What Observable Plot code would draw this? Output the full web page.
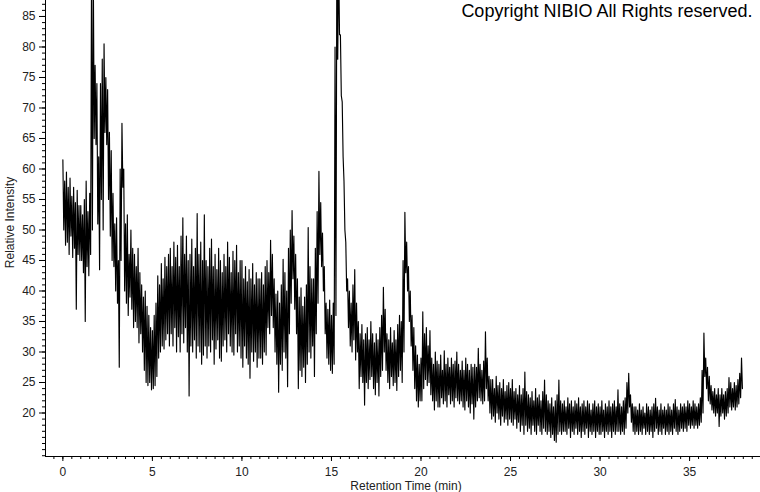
<!DOCTYPE html>
<html><head><meta charset="utf-8">
<script src="https://cdn.jsdelivr.net/npm/d3@7"></script>
<script src="https://cdn.jsdelivr.net/npm/@observablehq/plot@0.6"></script>
<style>
html,body{margin:0;padding:0;background:#fff;}
#chart{position:relative;width:760px;height:492px;}
</style></head><body><div id="chart"></div>
<script>
// sampling grid of the trace (minutes)
const startTime = 0;
const stepTime = 0.1;
// upper edge of the trace in each 0.1-min slot (relative intensity)
const upper = [
61.5,58,59.5,57,58.5,55.5,57,54.5,56.5,54,
54,52.5,55,58,53,56,92,92,77,74,
62,74,78,80.5,75,73,66,63,56,51,
52,45,60,67.5,60,51,52.5,46,50,47,
46,44,47,43,41,39,40,37.5,36,34,
33.5,36,38,42.5,41,44.5,42,45.5,44,46,
47,44,48,45.5,47.5,44,49,52,46,49,
45,46,48.5,44,47,52.7,46,48,45,52.5,
45,44,47,48.5,44,46,43.5,47,45,43,
46,44,48,45.5,43,46.5,45,47.5,43,45,
45,42,44,41.5,43.5,42,44.5,41,43,42,
42,43,41,44,45,43,48.3,46,42,39.5,
40,38,41,45.2,43,40,47,50,53.2,49,
46,42,39,40.5,37.5,39,41,50.4,44,42,
42,47,53,59.6,54.5,49.5,44,38,37,38.5,
36,38,80,95,95,82,71,58,48,42,
40,38,41,43.5,38,35,33,34.5,32,33,
34,32,35,33,31.5,33,32,34,36,40.6,
37,33,32,34,31.5,33.5,32,34.5,36,35,
45,52.9,48,44,40,36,34,31,29.5,28,
29,36.6,33,34,31,33.5,29,28,30,28.5,
28,29.5,27,30.2,28,29,27.5,29,28,28.5,
30,28,27,28.5,27,29,28,27,28,27.5,
28,27.5,30.6,28,27,28.5,33.3,29,26,25.5,
25.5,24,26,24.5,25,24,25.5,23.5,24.5,25,
24,25.5,23.5,24,23,24.5,23,24,26.7,23.5,
23,22.5,23.5,22,24,22.5,23,22,23.5,25.4,
23,22,21.5,22.5,21,22,23,25.4,22,21.5,
22,21,22.5,21.5,22,21,22,21.5,22.5,21,
21.5,22,21,22,21.5,20.5,21.5,22,21,21.5,
21,22,20.5,21.5,21,22,21,21.5,22,21,
23.8,21.5,21,22,22.5,25,26.5,23,21.5,21,
21,20.5,21.5,20.5,21,20,21.5,21,20.5,21,
21.5,22.4,21,20.5,21.5,20.5,21,20.5,21.5,21,
20.5,21.5,22.2,21,20.5,21.5,21,21.5,21,22,
21.5,21,22,21.5,21,21.5,22.5,27,33.1,29,
27.5,26,24.5,23.5,24,23,24,23,24,23,
23.5,24,25.8,25,24,25,24.5,25.5,26.5,29
];
// lower edge of the trace in each 0.1-min slot (relative intensity)
const lower = [
50,47.5,48,46,49,45.5,47,37,46,45,
45,43,35,44,42.5,46,50,65,64,51,
43.5,55,50,66,64,55,49,45,44,40,
38,27.5,45,57,40,38,36,39,37,34,
35,34,31.5,33,30,27,25,24.5,25,23.8,
24,24.5,26,29,30,31,30.5,32,33,31,
33,31,34,30,32.5,30,33,31.5,34,30,
22.8,31,30,32,29,31,30,28,29.5,31,
29,31,30,32,28,30.5,32,29,28.5,31,
32,30,33,31,30,29.5,33,30,31,29,
27.5,31,29,28,25.7,30,28.5,30,27.5,29,
29,28,30,29.5,34,33,36,34,30,28,
23.4,28,27,30,29,24.3,33,38,42,37,
33,24,27,26,27.5,25,28,30,29,31,
26,33,38,46,44,40,33,29,28,27,
26.5,28,36,78,82,72,62,50,40,34,
31,30,32,28.7,30,24,26,25,21.3,25,
24,25.5,26,24,23,25,22.8,26,27,30,
27,25,24,26,24.5,25,23.7,26,27,25,
30,43,40,35,31,27,24,22,21,22,
22,24,25.5,24.5,25,23,22,20.5,22,21,
21,22.5,21.5,22,21,23,21.5,22,21,22.5,
22,21.5,22,21,20.5,22,21,20,21.5,19,
21,22,22.5,22,21.5,22,24,22,20,19,
19.5,18.5,20,19,18,19.5,18.5,19,18,19,
18.5,18,19,17.5,18.5,17,18,16.5,18,17,
17.5,16.5,18,17,16.5,18,17,16.5,17.5,17,
16.5,17,16,16.5,15.5,15.2,16.5,17,16.5,17,
17,16.5,17.5,16,17,16.5,17.5,16.5,17,16,
17,16.5,17.5,16,17,16.5,17,16,17,16.5,
16.5,17,16,17,16.5,17,16,17,16.5,17,
17,16.5,17,16.5,17.5,20,21,18.5,17,16.5,
17,16.5,17,16.5,17.5,16.5,17,16.5,17,16,
17,17.5,16.5,17,16.5,17.5,16.5,17,16.5,17,
16.5,17.5,17,16.5,17,17.5,17,17.5,17,18,
17.5,18,17.5,18,17.5,18,18.5,20,26,24,
22,21.5,20.5,20,19.5,20,17.8,19.5,20,19,
19.5,20,21,20.5,21,20.5,21,21.5,22.5,24
];
const xTicks = [0, 5, 10, 15, 20, 25, 30, 35];
const yTicks = [20, 25, 30, 35, 40, 45, 50, 55, 60, 65, 70, 75, 80, 85];
const xMinorStep = 0.5;
const yMinorStep = 1;
const xDomain = [-0.97, 38.96];
const yDomain = [12.87, 87.62];
const xLabel = "Retention Time (min)";
const yLabel = "Relative Intensity";
const copyright = "Copyright NIBIO All Rights reserved.";

// trace: top edge then bottom edge within every slot
const points = [];
upper.forEach((u, i) => {
  const t = startTime + i * stepTime;
  points.push({t, v: u});
  points.push({t: t + stepTime / 2, v: lower[i]});
});
const xMinor = d3.range(Math.ceil(xDomain[0] / xMinorStep) * xMinorStep, xDomain[1], xMinorStep);
const yMinor = d3.range(Math.ceil(yDomain[0]), yDomain[1], yMinorStep);

const font = "Arial, 'Liberation Sans', sans-serif";
const chart = Plot.plot({
  width: 760, height: 492,
  marginLeft: 45, marginRight: 0, marginTop: 0, marginBottom: 36,
  style: {fontFamily: font, fontSize: "12px", color: "#222", background: "#fff"},
  x: {domain: xDomain},
  y: {domain: yDomain},
  marks: [
    Plot.line(points, {x: "t", y: "v", stroke: "#000", strokeWidth: 1.15, clip: true}),
    Plot.axisX(xMinor, {tickSize: 3, tickFormat: () => "", label: null, stroke: "#000"}),
    Plot.axisX(xTicks, {tickSize: 5, tickPadding: 6, stroke: "#000", label: null, fontSize: 12}),
    Plot.axisY(yMinor, {tickSize: 3, tickFormat: () => "", label: null, stroke: "#000"}),
    Plot.axisY(yTicks, {tickSize: 6, tickPadding: 4, stroke: "#000", label: null, fontSize: 12}),
    Plot.ruleX([xDomain[0]], {stroke: "#000"}),
    Plot.ruleY([yDomain[0]], {stroke: "#000"}),
    Plot.text([xLabel], {text: d => d, frameAnchor: "bottom", dx: 3, dy: 30, lineAnchor: "middle", textAnchor: "middle", fontSize: 12, fill: "#222"}),
    Plot.text([yLabel], {text: d => d, frameAnchor: "left", rotate: -90, dx: -35, dy: -6, lineAnchor: "middle", textAnchor: "middle", fontSize: 12, fill: "#222"}),
    Plot.text([copyright], {text: d => d, frameAnchor: "top-right", dx: -8, dy: 4, lineAnchor: "top", textAnchor: "end", fontSize: 18, fill: "#000"})
  ]
});
document.getElementById("chart").appendChild(chart);
</script></body></html>
